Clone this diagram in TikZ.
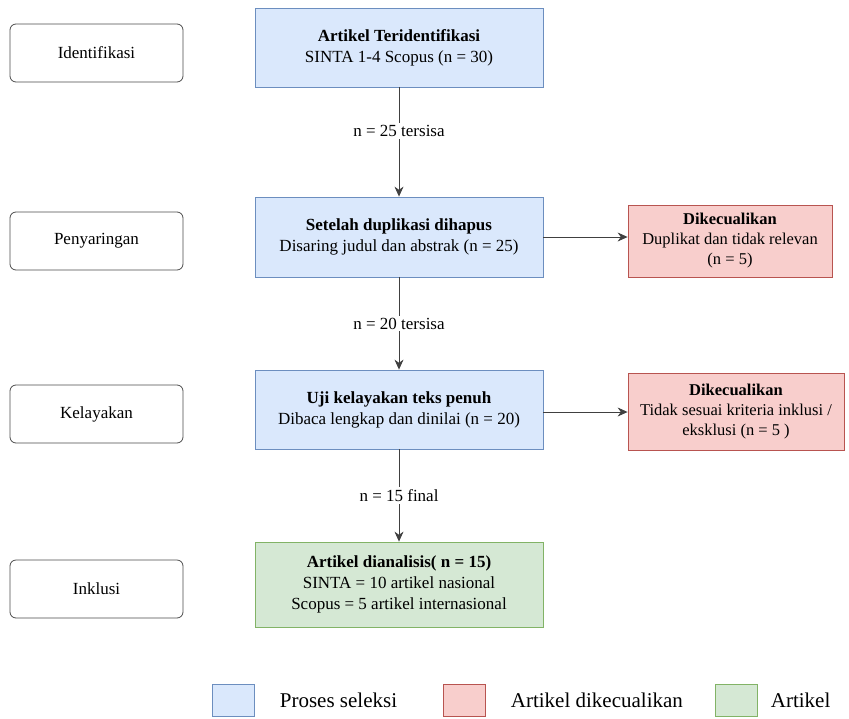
\documentclass[tikz,border=0pt]{standalone}
\usepackage{fontspec}
\setmainfont{Liberation Serif}
\usetikzlibrary{arrows.meta,positioning}
\definecolor{selfill}{HTML}{DAE8FC}
\definecolor{selline}{HTML}{6C8EBF}
\definecolor{excfill}{HTML}{F8CECC}
\definecolor{excline}{HTML}{B85450}
\definecolor{incfill}{HTML}{D5E8D4}
\definecolor{incline}{HTML}{82B366}

\begin{document}
\begin{tikzpicture}[x=1pt,y=-1pt,
    stagebox/.style={draw=black!70, rounded corners=6pt, fill=white, line width=0.8pt,
        minimum width=173pt, minimum height=58pt, font=\fontsize{17}{20}\selectfont},
    procbox/.style={draw=selline, fill=selfill, line width=0.8pt, align=center,
        minimum width=288pt, font=\fontsize{17}{21}\selectfont},
    excbox/.style={draw=excline, fill=excfill, line width=0.8pt, align=center,
        inner sep=1pt, font=\fontsize{16.5}{20}\selectfont},
    flow/.style={-{Stealth[length=10pt,width=9pt]}, line width=0.9pt, draw=black!75},
    count/.style={fill=white, font=\fontsize{17}{20}\selectfont, inner sep=2pt},
    legbox/.style={line width=0.7pt, minimum width=42pt, minimum height=32pt},
    legtext/.style={anchor=west, font=\fontsize{21}{24}\selectfont}]
    \useasboundingbox (0,0) rectangle (849,718);

    % Tahapan
    \foreach \y/\n/\t in {53/idt/Identifikasi,241/pny/Penyaringan,414/kel/Kelayakan,589/ink/Inklusi}
        \node[stagebox] (\n) at (96.5,\y) {\t};

    % Alur seleksi
    \node[procbox, minimum height=79pt] (found) at (399,47.5)
        {\textbf{Artikel Teridentifikasi}\\SINTA 1-4 Scopus (n = 30)};
    \node[procbox, minimum height=80pt] (screen) at (399,237)
        {\textbf{Setelah duplikasi dihapus}\\Disaring judul dan abstrak (n = 25)};
    \node[procbox, minimum height=79pt] (elig) at (399,409.5)
        {\textbf{Uji kelayakan teks penuh}\\Dibaca lengkap dan dinilai (n = 20)};
    \node[procbox, draw=incline, fill=incfill, minimum height=85pt] (final) at (399,584.5)
        {\textbf{Artikel dianalisis( n = 15)}\\SINTA = 10 artikel nasional\\Scopus = 5 artikel internasional};

    % Dikecualikan
    \node[excbox, minimum width=204pt, minimum height=72pt] (drop1) at (730,241)
        {\textbf{Dikecualikan}\\Duplikat dan tidak relevan\\(n = 5)};
    \node[excbox, minimum width=216pt, minimum height=77pt] (drop2) at (736,412)
        {\textbf{Dikecualikan}\\Tidak sesuai kriteria inklusi /\\eksklusi (n = 5 )};

    \draw[flow] (found) -- node[count, pos=0.4] {n = 25 tersisa} (screen);
    \draw[flow] (screen) -- node[count] {n = 20 tersisa} (elig);
    \draw[flow] (elig) -- node[count] {n = 15 final} (final);
    \draw[flow] (screen.east) -- (screen.east -| drop1.west);
    \draw[flow] (elig.east |- drop2.west) -- (drop2.west);

    % Legenda
    \node[legbox, draw=selline, fill=selfill] (lsel) at (233,700) {};
    \node[legtext, right=22pt of lsel] (tsel) {Proses seleksi};
    \node[legbox, draw=excline, fill=excfill] (lexc) at (464,700) {};
    \node[legtext, right=22pt of lexc] (texc) {Artikel dikecualikan};
    \node[legbox, draw=incline, fill=incfill] (linc) at (736,700) {};
    \node[legtext, right=10pt of linc] (tinc) {Artikel};
\end{tikzpicture}
\end{document}
